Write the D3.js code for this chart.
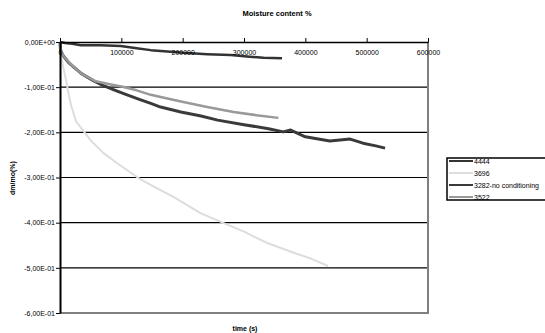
<!DOCTYPE html>
<html>
<head>
<meta charset="utf-8">
<script src="https://cdn.jsdelivr.net/npm/d3@7"></script>
<style>
  body { margin: 0; background: #fff; }
  svg { display: block; font-family: "Liberation Sans", Arial, sans-serif; }
</style>
</head>
<body>
<div id="chart"></div>
<script>
// series: [time (s), dm/mo]
var s4444 = [[0,0],[8000,-0.002],[20000,-0.004],[34000,-0.007],[66000,-0.007],[99000,-0.009],[125000,-0.014],[148000,-0.018],[175000,-0.021],[201000,-0.024],[240000,-0.027],[278000,-0.029],[305000,-0.032],[332000,-0.035],[362000,-0.036]];
var s3696 = [[0,0],[800,-0.02],[3000,-0.04],[6000,-0.06],[9800,-0.084],[14000,-0.115],[18000,-0.14],[26000,-0.175],[40000,-0.2],[50000,-0.218],[71000,-0.246],[95000,-0.27],[130000,-0.303],[160000,-0.325],[185000,-0.343],[229000,-0.379],[267000,-0.401],[300000,-0.42],[338000,-0.445],[380000,-0.466],[410000,-0.48],[437000,-0.496]];
var s3282 = [[0,0],[1000,-0.02],[5000,-0.03],[15000,-0.047],[35000,-0.07],[55000,-0.086],[70000,-0.096],[88000,-0.106],[105000,-0.115],[127000,-0.126],[148000,-0.136],[164000,-0.144],[197000,-0.155],[230000,-0.164],[257000,-0.173],[300000,-0.183],[340000,-0.192],[364000,-0.199],[376000,-0.195],[400000,-0.21],[440000,-0.219],[473000,-0.215],[494000,-0.224],[515000,-0.23],[530000,-0.235]];
var s3522 = [[0,0],[1000,-0.015],[5000,-0.03],[15000,-0.046],[35000,-0.07],[58000,-0.087],[83000,-0.094],[102000,-0.099],[125000,-0.107],[148000,-0.117],[175000,-0.125],[201000,-0.133],[240000,-0.144],[283000,-0.155],[320000,-0.162],[356000,-0.168]];

var seriesNames = ["4444", "3696", "3282-no conditioning", "3522"];
var seriesData = [s4444, s3696, s3282, s3522];
var seriesColors = ["#333333", "#dddddd", "#3a3a3a", "#999999"];
var seriesWidths = [2.5, 2, 3, 2.5];

var xTicks = [0, 100000, 200000, 300000, 400000, 500000, 600000];
var yTicks = [0, -0.1, -0.2, -0.3, -0.4, -0.5, -0.6];
var yTickLabels = ["0,00E+00", "-1,00E-01", "-2,00E-01", "-3,00E-01", "-4,00E-01", "-5,00E-01", "-6,00E-01"];

var width = 545, height = 333;
var margin = {top: 42, left: 60, right: 117, bottom: 20};

var svg = d3.select('#chart').append('svg')
    .attr('width', width)
    .attr('height', height);

var x = d3.scaleLinear().domain([0, 600000]).range([margin.left, width - margin.right]);
var y = d3.scaleLinear().domain([-0.6, 0]).range([height - margin.bottom, margin.top]);

// title
svg.append('text')
    .text('Moisture content %')
    .attr('x', 277).attr('y', 16)
    .attr('font-size', 7.5).attr('font-weight', 'bold')
    .attr('text-anchor', 'middle');

// gridlines
svg.append('g')
    .selectAll('line')
    .data(yTicks.slice(1, -1))
    .join('line')
    .attr('x1', x(0)).attr('x2', x(600000))
    .attr('y1', function (d) { return y(d); }).attr('y2', function (d) { return y(d); })
    .attr('stroke', '#000').attr('stroke-width', 1.2);

// plot frame: gray right / bottom
svg.append('line')
    .attr('x1', x(600000)).attr('x2', x(600000))
    .attr('y1', y(0)).attr('y2', y(-0.6))
    .attr('stroke', '#808080').attr('stroke-width', 2);
svg.append('line')
    .attr('x1', x(0)).attr('x2', x(600000) + 1)
    .attr('y1', y(-0.6)).attr('y2', y(-0.6))
    .attr('stroke', '#808080').attr('stroke-width', 2);

// series
var line = d3.line()
    .x(function (d) { return x(d[0]); })
    .y(function (d) { return y(d[1]); });

svg.append('g')
    .selectAll('path')
    .data(seriesData)
    .join('path')
    .attr('d', line)
    .attr('fill', 'none')
    .attr('stroke', function (d, i) { return seriesColors[i]; })
    .attr('stroke-width', function (d, i) { return seriesWidths[i]; })
    .attr('stroke-linejoin', 'round');

// x axis along the top (value 0)
var xAxis = d3.axisTop(x)
    .tickValues(xTicks)
    .tickFormat(function (d) { return d; })
    .tickSize(4)
    .tickSizeOuter(0);
var gx = svg.append('g')
    .attr('transform', 'translate(0,' + y(0) + ')')
    .call(xAxis);
gx.select('.domain').attr('stroke', '#000').attr('stroke-width', 1.5);
gx.selectAll('.tick line').attr('stroke', '#000');
gx.selectAll('.tick text')
    .attr('y', 13)
    .attr('font-size', 7)
    .attr('fill', '#000')
    .attr('font-family', '"Liberation Sans", Arial, sans-serif');

// y axis
var yAxis = d3.axisLeft(y)
    .tickValues(yTicks)
    .tickFormat(function (d, i) { return yTickLabels[i]; })
    .tickSize(4)
    .tickSizeOuter(0);
var gy = svg.append('g')
    .attr('transform', 'translate(' + x(0) + ',0)')
    .call(yAxis);
gy.select('.domain').attr('stroke', '#000').attr('stroke-width', 2);
gy.selectAll('.tick line').attr('stroke', '#000');
gy.selectAll('.tick text')
    .attr('x', -5)
    .attr('font-size', 7)
    .attr('fill', '#000')
    .attr('font-family', '"Liberation Sans", Arial, sans-serif');

// axis titles
svg.append('text')
    .text('time (s)')
    .attr('x', 245).attr('y', 331)
    .attr('font-size', 7).attr('font-weight', 'bold')
    .attr('text-anchor', 'middle');
svg.append('text')
    .text('dm/mo(%)')
    .attr('transform', 'translate(15,178) rotate(-90)')
    .attr('font-size', 7).attr('font-weight', 'bold')
    .attr('text-anchor', 'middle');

// legend
var legend = svg.append('g').attr('transform', 'translate(447,158)');
legend.append('rect')
    .attr('x', 0).attr('y', 0)
    .attr('width', 130).attr('height', 42)
    .attr('fill', '#fff')
    .attr('stroke', '#000').attr('stroke-width', 1.5);
var item = legend.selectAll('g.item')
    .data(seriesNames)
    .join('g')
    .attr('class', 'item')
    .attr('transform', function (d, i) { return 'translate(0,' + (3 + i * 12) + ')'; });
item.append('line')
    .attr('x1', 2).attr('x2', 26)
    .attr('y1', 0).attr('y2', 0)
    .attr('stroke', function (d, i) { return seriesColors[i]; })
    .attr('stroke-width', 2);
item.append('text')
    .text(function (d) { return d; })
    .attr('x', 27).attr('y', 2.5)
    .attr('font-size', 7);
</script>
</body>
</html>
